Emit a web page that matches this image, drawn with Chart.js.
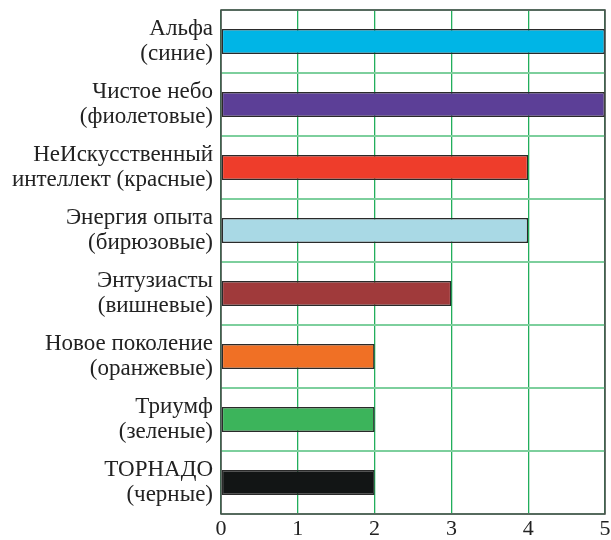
<!DOCTYPE html>
<html>
<head>
<meta charset="utf-8">
<script src="https://cdn.jsdelivr.net/npm/chart.js@4.4.0/dist/chart.umd.min.js"></script>
<style>
  html, body { margin: 0; padding: 0; background: #fff; }
  #wrap { width: 611px; height: 540px; }
</style>
</head>
<body>
<div id="wrap"><canvas id="myChart"></canvas></div>
<script>
// Data
const categories = [
  ["Альфа", "(синие)"],
  ["Чистое небо", "(фиолетовые)"],
  ["НеИскусственный", "интеллект (красные)"],
  ["Энергия опыта", "(бирюзовые)"],
  ["Энтузиасты", "(вишневые)"],
  ["Новое поколение", "(оранжевые)"],
  ["Триумф", "(зеленые)"],
  ["ТОРНАДО", "(черные)"]
];
const scores = [5, 5, 4, 4, 3, 2, 2, 2];
const barColors = ["#00b5e6", "#5c3f97", "#ee3d2b", "#a9d9e5", "#a03a3b", "#f07025", "#3cb45b", "#121515"];
const xTicks = [0, 1, 2, 3, 4, 5];

// frame around the plot area
const frame = {
  id: "frame",
  afterDatasetsDraw(chart) {
    const a = chart.chartArea;
    const c = chart.ctx;
    c.save();
    c.strokeStyle = "#4a4a4a";
    c.lineWidth = 1.5;
    c.strokeRect(a.left, a.top, a.right - a.left, a.bottom - a.top);
    c.restore();
  }
};

const ctx = document.getElementById("myChart");
new Chart(ctx, {
  type: "bar",
  data: {
    labels: categories,
    datasets: [{
      data: scores,
      backgroundColor: barColors,
      borderColor: "#2a2a2a",
      borderWidth: 1.5,
      borderSkipped: false,
      barPercentage: 0.4,
      categoryPercentage: 1
    }]
  },
  options: {
    indexAxis: "y",
    responsive: true,
    maintainAspectRatio: false,
    animation: false,
    layout: { padding: { left: 0, right: 6, top: 10, bottom: 0 } },
    plugins: { legend: { display: false }, tooltip: { enabled: false } },
    scales: {
      x: {
        min: 0,
        max: 5,
        afterBuildTicks: s => { s.ticks = xTicks.map(v => ({ value: v })); },
        afterFit: s => { s.height = 26; s.paddingLeft = 0; s.paddingRight = 0; },
        grid: { color: "#22ae5c", lineWidth: 1.3, drawTicks: false },
        border: { display: false },
        ticks: {
          color: "#222",
          padding: 2,
          font: { family: "Liberation Serif", size: 22 }
        }
      },
      y: {
        afterFit: s => { s.width = 221; s.paddingTop = 0; s.paddingBottom = 0; },
        grid: { color: "#7dcf9d", lineWidth: 2, drawTicks: false, offset: true },
        border: { display: false },
        ticks: {
          color: "#222",
          padding: 8,
          font: { family: "Liberation Serif", size: 23, lineHeight: 1.1 }
        }
      }
    }
  },
  plugins: [frame]
});
</script>
</body>
</html>
